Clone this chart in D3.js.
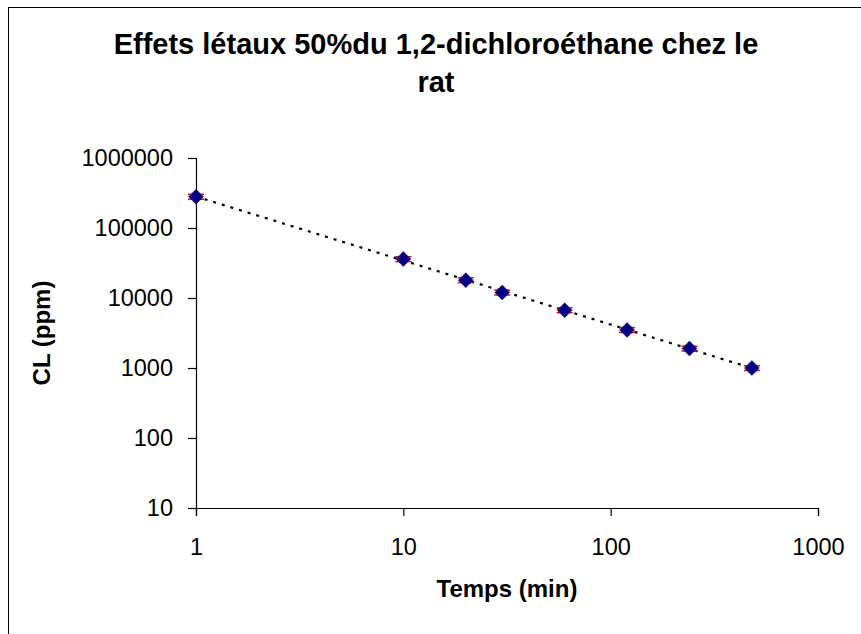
<!DOCTYPE html>
<html><head><meta charset="utf-8">
<script src="https://cdn.jsdelivr.net/npm/d3@7"></script>
<style>html,body{margin:0;padding:0;background:#fff;}svg{display:block;font-family:"Liberation Sans",Arial,sans-serif;}</style>
</head><body>
<script>
const titleLines = ["Effets létaux 50%du 1,2-dichloroéthane chez le", "rat"];
const xLabel = "Temps (min)";
const yLabel = "CL (ppm)";
const times = [1, 10, 20, 30, 60, 120, 240, 480];
const concentrations = [280000, 36000, 18000, 12000, 6700, 3500, 1900, 1000];
const errorFraction = [0.08, 0.08, 0.08, 0.08, 0.08, 0.08, 0.08, 0.08];
const xTicks = [1, 10, 100, 1000];
const yTicks = [10, 100, 1000, 10000, 100000, 1000000];

const W = 861, H = 634;
const svg = d3.select("body").append("svg").attr("width", W).attr("height", H);
svg.append("rect").attr("x", 0).attr("y", 0).attr("width", W).attr("height", H).attr("fill", "#fff");
svg.append("rect").attr("x", 8.5).attr("y", 7.5).attr("width", 900).attr("height", 700)
  .attr("fill", "none").attr("stroke", "#000").attr("stroke-width", 1);

const x = d3.scaleLog().domain([1, 1000]).range([196, 818]);
const y = d3.scaleLog().domain([10, 1000000]).range([508, 158]);

// title
svg.append("g").selectAll("text").data(titleLines).join("text")
  .attr("x", 436).attr("y", (d, i) => 54 + i * 38)
  .attr("text-anchor", "middle").attr("font-weight", "bold").attr("font-size", 29)
  .attr("fill", "#000").text(d => d);

// axes
const xAxis = svg.append("g").attr("transform", "translate(0,508)")
  .call(d3.axisBottom(x).tickValues(xTicks).tickFormat(d3.format("d")).tickSize(8).tickPadding(22));
const yAxis = svg.append("g").attr("transform", "translate(196,0)")
  .call(d3.axisLeft(y).tickValues(yTicks).tickFormat(d3.format("d")).tickSize(8).tickPadding(15));
[xAxis, yAxis].forEach(g => {
  g.select(".domain").attr("stroke", "#000").attr("stroke-width", 1.2);
  g.selectAll(".tick line").attr("stroke", "#000").attr("stroke-width", 1.2);
  g.selectAll(".tick text").attr("font-size", 23.5).attr("fill", "#000")
    .attr("font-family", "'Liberation Sans', Arial, sans-serif");
});

// axis titles
svg.append("text").attr("x", 507).attr("y", 597).attr("text-anchor", "middle")
  .attr("font-weight", "bold").attr("font-size", 24).text(xLabel);
svg.append("text").attr("transform", "translate(50,333) rotate(-90)").attr("text-anchor", "middle")
  .attr("font-weight", "bold").attr("font-size", 24).text(yLabel);

// power trendline (least squares in log-log)
const lx = times.map(Math.log10), ly = concentrations.map(Math.log10);
const mx = d3.mean(lx), my = d3.mean(ly);
const b = d3.sum(lx.map((v, i) => (v - mx) * (ly[i] - my))) / d3.sum(lx.map(v => (v - mx) ** 2));
const a = my - b * mx;
const trendX = d3.range(0, 61).map(i => Math.pow(10, Math.log10(times[0]) + i / 60 * (Math.log10(times[times.length - 1]) - Math.log10(times[0]))));
svg.append("path").datum(trendX)
  .attr("d", d3.line().x(d => x(d)).y(d => y(Math.pow(10, a + b * Math.log10(d)))))
  .attr("fill", "none").attr("stroke", "#000").attr("stroke-width", 2.2).attr("stroke-dasharray", "3,6");

// error bar caps
const pts = times.map((t, i) => ({t, c: concentrations[i], e: errorFraction[i]}));
const eb = svg.append("g");
pts.forEach(p => {
  [p.c * (1 - p.e), p.c * (1 + p.e)].forEach(v => {
    eb.append("line").attr("x1", x(p.t) - 8).attr("x2", x(p.t) + 8)
      .attr("y1", y(v)).attr("y2", y(v)).attr("stroke", "#ff0000").attr("stroke-width", 1.5);
  });
});

// diamonds
svg.append("g").selectAll("path").data(pts).join("path")
  .attr("transform", d => `translate(${x(d.t)},${y(d.c)})`)
  .attr("d", "M0,-7.5L7.5,0L0,7.5L-7.5,0Z")
  .attr("fill", "#000080").attr("stroke", "#1a1aa0").attr("stroke-width", 0.5);
</script>
</body></html>
